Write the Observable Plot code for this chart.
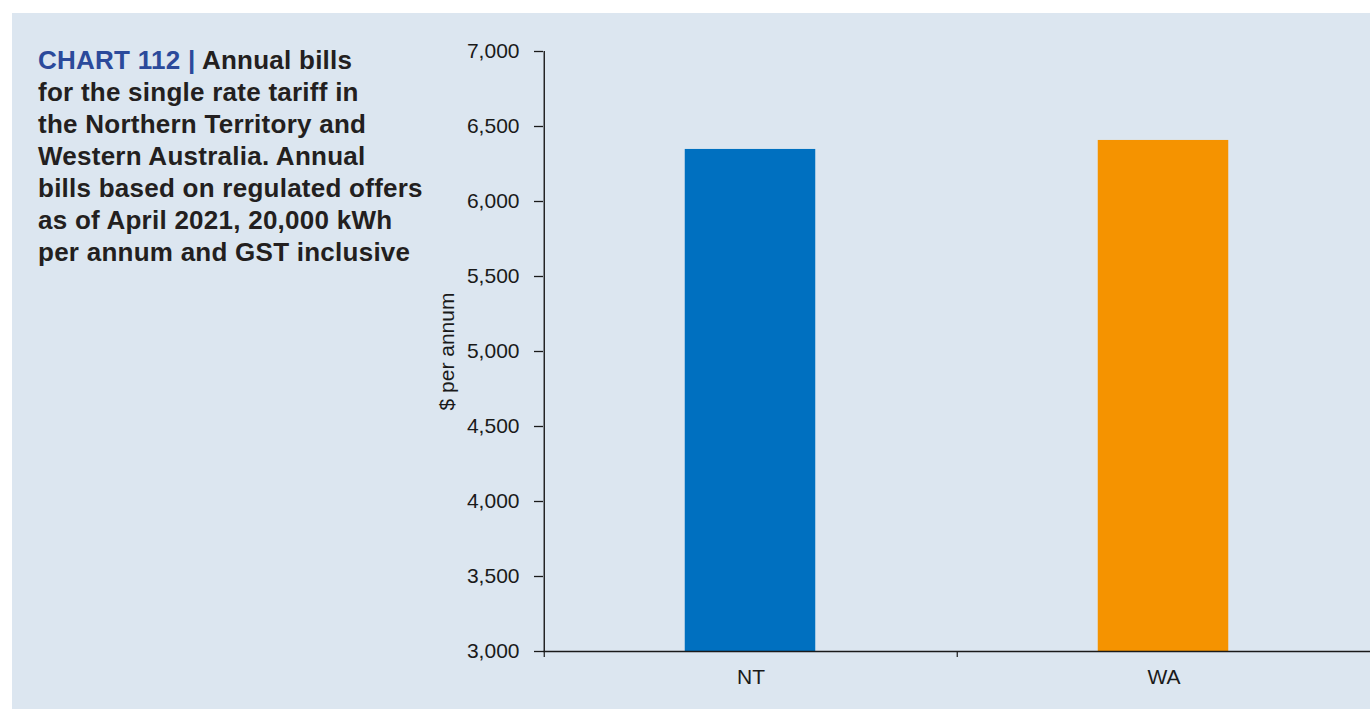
<!DOCTYPE html>
<html>
<head>
<meta charset="utf-8">
<script src="https://cdn.jsdelivr.net/npm/d3@7"></script>
<script src="https://cdn.jsdelivr.net/npm/@observablehq/plot@0.6"></script>
<style>
html, body { margin: 0; padding: 0; background: #ffffff; }
#wrap { position: relative; width: 1370px; height: 709px; overflow: hidden; }
#panel { position: absolute; left: 12px; top: 13px; right: 0; bottom: 0; background: #dce6f0; }
#title { position: absolute; left: 38px; top: 44px; z-index: 2; white-space: nowrap;
  font-family: "Liberation Sans", Arial, Helvetica, sans-serif; font-weight: bold;
  font-size: 26px; letter-spacing: 0.25px; line-height: 32px; color: #231f20; }
#title .num { color: #2b4a9b; }
#chart { position: absolute; left: 0; top: 0; z-index: 1; }
</style>
</head>
<body>
<div id="wrap">
  <div id="panel"></div>
  <div id="title"><span class="num">CHART 112 |</span> Annual bills<br>for the single rate tariff in<br>the Northern Territory and<br>Western Australia. Annual<br>bills based on regulated offers<br>as of April 2021, 20,000 kWh<br>per annum and GST inclusive</div>
  <div id="chart"></div>
</div>
<script>
const categories = ["NT", "WA"];
const values = [6347, 6407];
const barColors = ["#0070c0", "#f59300"];
const yTicks = [3000, 3500, 4000, 4500, 5000, 5500, 6000, 6500, 7000];
const yLabel = "$ per annum";

const data = categories.map((c, i) => ({cat: c, value: values[i]}));

const W = 1370, H = 709, ML = 543, MR = 0, MT = 51, MB = 58;
const halfStep = (W - ML - MR) / categories.length / 2;

const chart = Plot.plot({
  width: W,
  height: H,
  marginLeft: ML,
  marginRight: MR,
  marginTop: MT,
  marginBottom: MB,
  style: {background: "transparent", fontFamily: "Liberation Sans, Arial, Helvetica, sans-serif", color: "#1a1a1a"},
  x: {type: "band", domain: categories, padding: 0},
  y: {domain: [3000, 7000]},
  color: {domain: categories, range: barColors},
  marks: [
    Plot.barY(data, {x: "cat", y1: 3000, y2: "value", fill: "cat", insetLeft: halfStep - 66, insetRight: halfStep - 65}),
    Plot.ruleY([3000], {stroke: "#1a1a1a", strokeWidth: 1.4}),
    Plot.ruleX(categories.slice(0, 1), {x: d => d, dx: -halfStep, y1: 7000, y2: 3000, stroke: "#1a1a1a", strokeWidth: 1.4}),
    Plot.ruleX(categories, {x: d => d, dx: -halfStep, y1: 3000, y2: 3000, insetBottom: -6, stroke: "#1a1a1a", strokeWidth: 1.2}),
    Plot.axisY(yTicks, {tickSize: 9, tickPadding: 15, tickFormat: d3.format(","), fontSize: 21, label: null, stroke: "#1a1a1a", strokeWidth: 1.3}),
    Plot.axisX({tickSize: 0, tickPadding: 18, fontSize: 21, label: null}),
    Plot.text([yLabel], {text: d => d, frameAnchor: "left", textAnchor: "middle", rotate: -90, dx: -96, fontSize: 21, fill: "#1a1a1a"})
  ]
});
document.getElementById("chart").appendChild(chart);
</script>
</body>
</html>
